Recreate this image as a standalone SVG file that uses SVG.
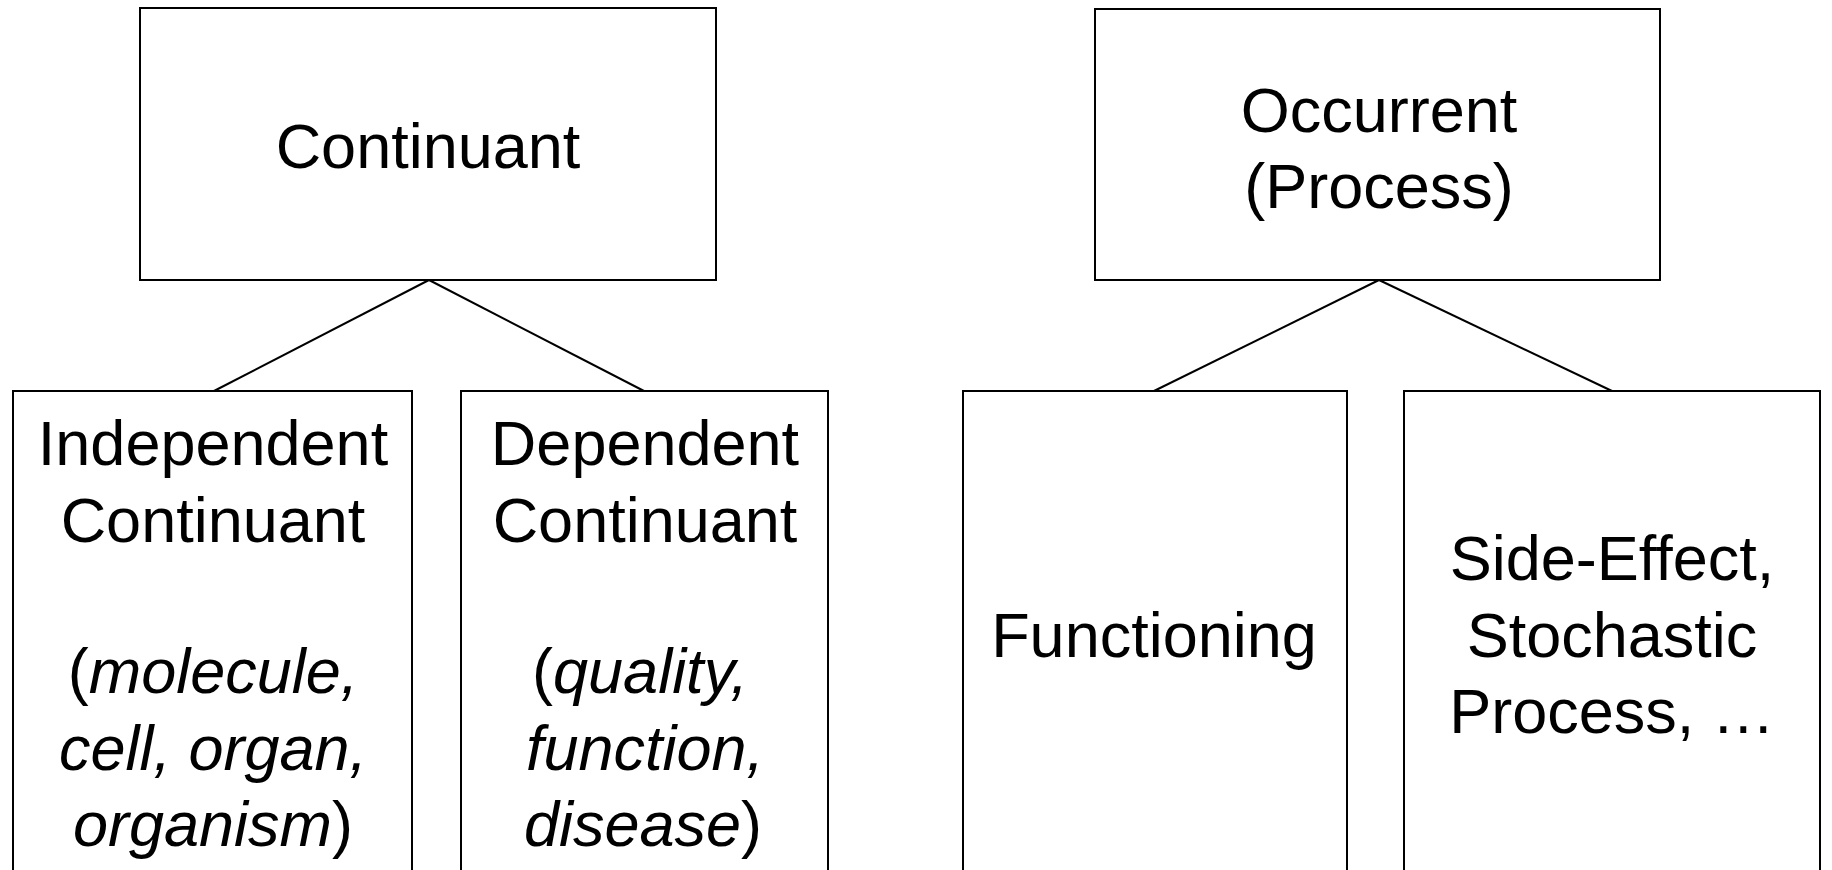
<svg xmlns="http://www.w3.org/2000/svg" width="1832" height="870" viewBox="0 0 1832 870">
<style>
rect{fill:#fff;stroke:#000;stroke-width:2}
line{stroke:#000;stroke-width:2}
text{font-family:"Liberation Sans",Arial,sans-serif;font-size:63px;fill:#000;text-anchor:middle}
.i{font-style:italic}
</style>
<rect x="0" y="0" width="1832" height="870" style="stroke:none"/>
<g id="connectors">
<line x1="429" y1="280" x2="214" y2="391"/>
<line x1="429" y1="280" x2="644" y2="391"/>
<line x1="1379" y1="280" x2="1154" y2="391"/>
<line x1="1379" y1="280" x2="1612" y2="391"/>
</g>
<g id="continuant">
<rect x="140" y="8" width="576" height="272"/>
<text x="428" y="168">Continuant</text>
</g>
<g id="occurrent">
<rect x="1095" y="9" width="565" height="271"/>
<text x="1379" y="132">Occurrent</text>
<text x="1379" y="208">(Process)</text>
</g>
<g id="independent">
<rect x="13" y="391" width="399" height="500"/>
<text x="213" y="465">Independent</text>
<text x="213" y="542">Continuant</text>
<text x="213" y="693">(<tspan class="i">molecule,</tspan></text>
<text x="213" y="770" class="i">cell, organ,</text>
<text x="213" y="846"><tspan class="i">organism</tspan>)</text>
</g>
<g id="dependent">
<rect x="461" y="391" width="367" height="500"/>
<text x="645" y="465">Dependent</text>
<text x="645" y="542">Continuant</text>
<text x="640" y="693">(<tspan class="i">quality,</tspan></text>
<text x="645" y="770" class="i">function,</text>
<text x="643" y="846"><tspan class="i">disease</tspan>)</text>
</g>
<g id="functioning">
<rect x="963" y="391" width="384" height="500"/>
<text x="1154" y="657">Functioning</text>
</g>
<g id="side-effect">
<rect x="1404" y="391" width="416" height="500"/>
<text x="1612" y="580">Side-Effect,</text>
<text x="1612" y="657">Stochastic</text>
<text x="1612" y="733">Process, …</text>
</g>
</svg>
